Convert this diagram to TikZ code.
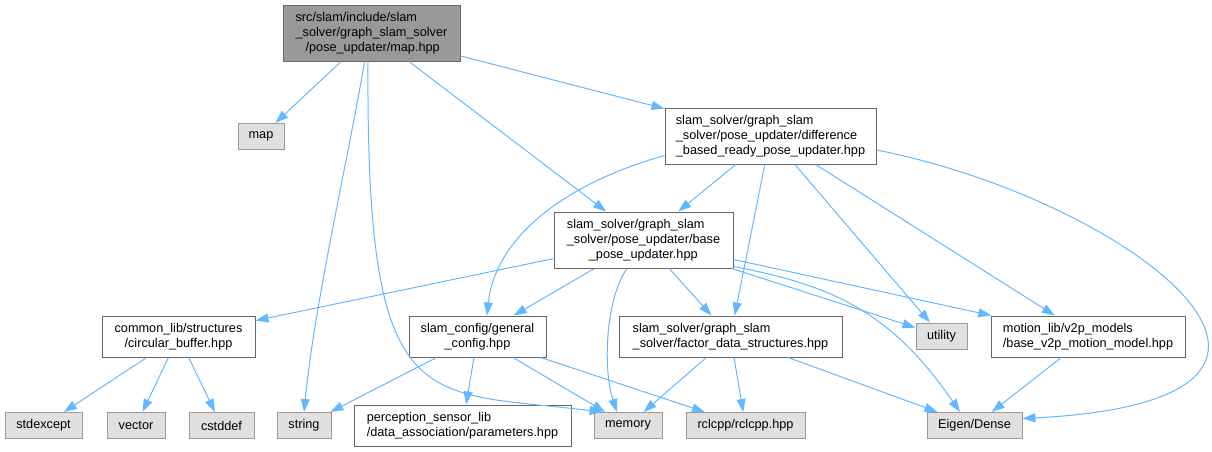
\documentclass[tikz,border=0pt]{standalone}
\usepackage{fontspec}
\setmainfont{Liberation Sans}
\definecolor{EdgeBlue}{RGB}{99, 184, 255}
\definecolor{RootGray}{RGB}{153, 153, 153}
\definecolor{BoxLine}{RGB}{102, 102, 102}
\definecolor{SysGray}{RGB}{224, 224, 224}
\definecolor{SysLine}{RGB}{153, 153, 153}
\usetikzlibrary{arrows.meta, positioning}

\begin{document}
\begin{tikzpicture}[x=1pt, y=-1pt, every node/.style={font=\fontsize{12.7}{15}\selectfont, inner sep=2pt},
    rootbox/.style={draw=BoxLine, fill=RootGray, line width=1pt},
    filebox/.style={draw=BoxLine, fill=white, line width=1pt},
    sysbox/.style={draw=SysLine, fill=SysGray, line width=1pt, minimum height=26pt},
    dep/.style={draw=EdgeBlue, line width=1pt, -{Triangle[length=13pt, width=9pt]}}]
    \useasboundingbox (0,0) rectangle (1212,451);

    % top and middle rows
    \node[rootbox, minimum width=177pt, minimum height=56pt, align=left] (MapH) at (371.5,33) {src/slam/include/slam\\\_solver/graph\_slam\_solver\\\hspace*{10pt}/pose\_updater/map.hpp};
    \node[sysbox, minimum width=46pt] (Map) at (261,136.5) {map};
    \node[filebox, minimum width=211pt, minimum height=56pt, align=left] (Diff) at (770.5,136) {slam\_solver/graph\_slam\\\_solver/pose\_updater/difference\\\_based\_ready\_pose\_updater.hpp};
    \node[filebox, minimum width=179pt, minimum height=56pt, align=left] (Base) at (643.5,240) {slam\_solver/graph\_slam\\\_solver/pose\_updater/base\\\hspace*{22pt}\_pose\_updater.hpp};
    \node[filebox, minimum width=153pt, minimum height=41pt, align=center] (Circ) at (178.5,336.5) {common\_lib/structures\\/circular\_buffer.hpp};
    \node[filebox, minimum width=137pt, minimum height=41pt, align=center] (GConf) at (477.5,336.5) {slam\_config/general\\\_config.hpp};
    \node[filebox, minimum width=223pt, minimum height=41pt, align=left] (Factor) at (730.5,336.5) {slam\_solver/graph\_slam\\\_solver/factor\_data\_structures.hpp};
    \node[sysbox, minimum width=51pt] (Utility) at (941.5,336) {utility};
    \node[filebox, minimum width=194pt, minimum height=41pt, align=left] (Motion) at (1088,336.5) {motion\_lib/v2p\_models\\/base\_v2p\_motion\_model.hpp};

    % bottom row
    \node[sysbox, minimum width=77pt] (StdExcept) at (43.5,425.5) {stdexcept};
    \node[sysbox, minimum width=58pt] (Vector) at (136,425.5) {vector};
    \node[sysbox, minimum width=65pt] (CStdDef) at (221.5,425.5) {cstddef};
    \node[sysbox, minimum width=54pt] (String) at (304,425.5) {string};
    \node[filebox, minimum width=217pt, minimum height=41pt, align=left] (Params) at (462.5,425.5) {perception\_sensor\_lib\\/data\_association/parameters.hpp};
    \node[sysbox, minimum width=68pt] (Memory) at (628,425.5) {memory};
    \node[sysbox, minimum width=119pt] (Rclcpp) at (745.5,425.5) {rclcpp/rclcpp.hpp};
    \node[sysbox, minimum width=95pt] (Eigen) at (974.5,425.5) {Eigen/Dense};

    % includes of map.hpp
    \draw[dep] (MapH) -- (Map);
    \draw[dep] (MapH) -- (Diff);
    \draw[dep] (MapH) -- (Base);
    \draw[dep] ([xshift=-7pt]MapH.south) .. controls (350,150) and (315,300) .. (String.north);
    \draw[dep] ([xshift=-3.5pt]MapH.south) .. controls (366,420) and (420,390) .. ([xshift=9pt]Memory.north west);

    % includes of difference_based_ready_pose_updater.hpp
    \draw[dep] (Diff) -- (Base);
    \draw[dep] ([yshift=9pt]Diff.south west) .. controls (560,185) and (495,240) .. ([xshift=9.5pt]GConf.north);
    \draw[dep] (Diff) -- (Factor);
    \draw[dep] (Diff) -- (Utility);
    \draw[dep] (Diff) -- (Motion);
    \draw[dep] ([yshift=-14pt]Diff.east) .. controls (1130,200) and (1390,400) .. ([yshift=7pt]Eigen.east);

    % includes of base_pose_updater.hpp
    \draw[dep] (Base) -- (Circ);
    \draw[dep] (Base) -- (GConf);
    \draw[dep] ([xshift=-16.5pt]Base.south) .. controls (605,300) and (603,370) .. ([xshift=-11pt]Memory.north);
    \draw[dep] (Base) -- (Factor);
    \draw[dep] (Base) -- (Utility);
    \draw[dep] ([yshift=2pt]Base.south east) .. controls (830,285) and (890,310) .. ([xshift=-14.5pt]Eigen.north);
    \draw[dep] (Base) -- (Motion);

    % includes of the second row
    \draw[dep] (Circ) -- (StdExcept);
    \draw[dep] (Circ) -- (Vector);
    \draw[dep] (Circ) -- (CStdDef);
    \draw[dep] (GConf) -- (String);
    \draw[dep] (GConf) -- (Params);
    \draw[dep] (GConf) -- (Memory);
    \draw[dep] (GConf) -- (Rclcpp);
    \draw[dep] (Factor) -- (Memory);
    \draw[dep] (Factor) -- (Rclcpp);
    \draw[dep] (Factor) -- (Eigen);
    \draw[dep] (Motion) -- (Eigen);
\end{tikzpicture}
\end{document}
